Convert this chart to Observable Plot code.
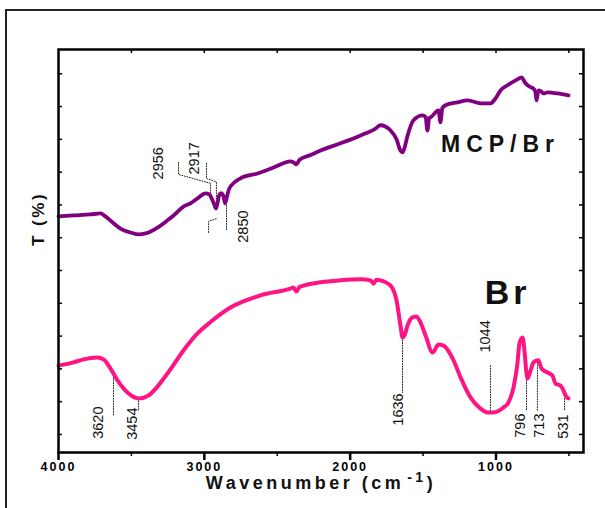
<!DOCTYPE html>
<html>
<head>
<meta charset="utf-8">
<script src="https://cdn.jsdelivr.net/npm/d3@7"></script>
<script src="https://cdn.jsdelivr.net/npm/@observablehq/plot@0.6"></script>
<style>
  html, body { margin: 0; padding: 0; background: #fff; overflow: hidden; width: 605px; height: 508px; }
  #wrap { position: relative; width: 605px; height: 508px; }
  #border { position: absolute; left: 5px; top: 9px; width: 700px; height: 600px; border: 2px solid #222; box-sizing: border-box; pointer-events: none; }
  svg { font-family: "Liberation Sans", Arial, sans-serif; }
  g[aria-label="x-axis tick label"] text { font-weight: bold; letter-spacing: 2px; }
</style>
</head>
<body>
<div id="wrap"><div id="border"></div></div>
<script>
// ---- data ----
const mcpWn = [4000,3897,3781,3712,3678,3630,3575,3506,3451,3403,3321,3253,3211,3143,3095,3047,2992,2965,2950,2935,2920,2910,2898,2885,2870,2857,2845,2830,2800,2752,2635,2526,2409,2389,2368,2347,2272,2203,2066,1929,1826,1792,1723,1682,1655,1641,1627,1607,1566,1504,1483,1470,1458,1449,1394,1381,1368,1346,1264,1195,1106,1038,1003,969,921,853,825,798,763,743,730,722,709,690,674,647,578,503];
const mcpT  = [66.5,66.8,67.1,67.4,66.5,64.7,62.8,61.6,61.0,61.3,63.1,65.3,66.8,69.5,70.5,72.0,73.5,73.2,72.0,70.5,68.9,70.5,73.0,73.6,72.8,70.5,72.5,74.9,76.6,78.1,79.6,81.4,83.3,83.0,82.4,83.8,85.2,86.6,88.8,91.2,93.3,94.3,92.7,90.0,86.5,86.0,87.5,91.0,95.8,97.3,96.8,92.7,96.5,96.7,98.8,95.2,99.5,100.4,101.3,101.9,101.0,101.0,102.5,104.9,106.5,108.3,108.9,107.1,105.9,105.5,104.5,101.9,104.9,104.6,104.0,104.3,104.0,103.4];

const brWn = [4000,3897,3829,3733,3691,3643,3595,3527,3451,3383,3253,3143,3047,2960,2821,2615,2409,2389,2368,2347,2203,2066,1929,1860,1840,1820,1792,1723,1682,1655,1641,1627,1607,1573,1545,1518,1483,1435,1394,1360,1291,1243,1175,1106,1058,1017,949,914,880,853,839,818,805,791,784,763,743,709,688,647,613,592,558,537,523,503];
const brT  = [21.0,22.0,22.9,23.5,22.9,20.1,16.5,12.8,11.0,11.9,18.6,25.6,30.8,34.2,38.7,42.4,44.5,44.8,43.6,45.0,46.4,47.0,47.3,47.0,46.0,47.2,47.0,45.4,40.9,33.2,29.6,30.2,33.2,35.7,36.0,34.2,30.2,25.0,27.4,27.1,22.6,17.4,11.3,7.9,6.7,6.7,8.2,9.8,14.3,21.7,27.8,29.6,25.6,18.6,17.1,19.5,22.0,22.6,20.1,18.9,18.0,15.5,14.9,13.4,11.9,11.0];

const peakText = ["2956","2917","2850","3620","3454","1636","1044","796","713","531"];
const peakWn   = [3314,3067,2731,3726,3493,1669,1072,832,702,537];
const peakT    = [82.7,84.2,63.4,3.6,3.3,7.6,29.9,2.7,2.7,2.4];

// dotted leader lines (id, wavenumber, T)
const leaderId = ["a","a","a","a", "b","b","b","b", "c","c","c", "d","d", "e","e", "f","f", "g","g", "h","h", "i","i", "j","j", "k","k"];
const leaderWn = [3177,3177,2958,2958, 2985,2985,2917,2917, 2971,2971,2910, 2848,2848, 3623,3623, 3451,3451, 1641,1641, 1038,1038, 791,791, 716,716, 530,530];
const leaderT  = [83.0,79.3,76.6,72.6, 82.7,78.1,77.0,69.9, 61.6,65.0,65.9, 69.9,62.2, 17.4,5.8, 11.0,7.3, 29.6,12.8, 21.0,6.7, 17.4,7.3, 22.0,7.3, 11.0,7.3];

const xMajor = [4000,3000,2000,1000];
const xMinor = [3500,2500,1500,500];
const xAll = [3500,3000,2500,2000,1500,1000,500];
const yTicks = [0,10,20,30,40,50,60,70,80,90,100,110];

const seriesName = ["MCP/Br","Br"];
const seriesWn = [969, 921];
const seriesT = [88.3, 43.2];

// ---- tables ----
const mcp = mcpWn.map((w,i)=>({wn:w, t:mcpT[i]}));
const br = brWn.map((w,i)=>({wn:w, t:brT[i]}));
const peaks = peakText.map((s,i)=>({s, wn:peakWn[i], t:peakT[i]}));
const leaders = leaderId.map((id,i)=>({id, wn:leaderWn[i], t:leaderT[i]}));

const W = 605, H = 508, mL = 58, mR = 22, mT = 49, mB = 56;
const pw = W - mL - mR, ph = H - mT - mB;

const chart = Plot.plot({
  width: W, height: H,
  marginLeft: mL, marginRight: mR, marginTop: mT, marginBottom: mB,
  style: {fontFamily: '"Liberation Sans", Arial, sans-serif', background: "transparent", overflow: "visible"},
  x: {domain: [4000, 400], axis: null, label: null},
  y: {domain: [-5.5, 117.4], axis: null, label: null},
  marks: [
    // inward minor ticks on top, left, right
    Plot.ruleX(xAll, {x: d=>d, insetBottom: ph - 4, stroke: "#000", strokeWidth: 1.5}),
    Plot.ruleY(yTicks, {y: d=>d, insetRight: pw - 4, stroke: "#000", strokeWidth: 1.5}),
    Plot.ruleY(yTicks, {y: d=>d, insetLeft: pw - 4, stroke: "#000", strokeWidth: 1.5}),
    Plot.axisX(xMinor, {tickSize: 4, text: null, label: null, strokeWidth: 1.5}),
    Plot.axisX(xMajor, {tickSize: 8, tickPadding: 2, strokeWidth: 2.5, fontSize: 12.5, fontWeight: "bold", tickFormat: d=>String(d), label: null}),
    // leaders
    Plot.line(leaders, {x: "wn", y: "t", z: "id", stroke: "#222", strokeWidth: 1, strokeDasharray: "1,1.6"}),
    // spectra
    Plot.line(mcp, {x: "wn", y: "t", stroke: "#800080", strokeWidth: 3.8, curve: "monotone-x"}),
    Plot.line(br, {x: "wn", y: "t", stroke: "#ff1483", strokeWidth: 4, curve: "monotone-x"}),
    // peak labels
    Plot.text(peaks, {x: "wn", y: "t", text: "s", rotate: -90, fontSize: 14.5, fill: "#111"}),
    // series labels
    Plot.text([0], {x: seriesWn[0], y: seriesT[0], text: [seriesName[0]], fontSize: 23, fontWeight: "bold", fill: "#111", lineAnchor: "middle"}),
    Plot.text([0], {x: seriesWn[1], y: seriesT[1], text: [seriesName[1]], fontSize: 34, fontWeight: "bold", fill: "#111", lineAnchor: "middle"}),
    // axis titles
    Plot.text(["Wavenumber (cm-1)"], {frameAnchor: "bottom", dy: 31, fontSize: 18, fontWeight: "bold", fill: "#111", lineAnchor: "middle"}),
    Plot.text(["T (%)"], {frameAnchor: "left", dx: -20, dy: -5, rotate: -90, fontSize: 17, fontWeight: "bold", fill: "#111", lineAnchor: "middle"}),
    Plot.frame({stroke: "#000", strokeWidth: 2.5})
  ]
});

document.getElementById("wrap").appendChild(chart);

// letter spacing and superscript
chart.querySelectorAll("text").forEach(t => {
  const s = t.textContent;
  if (s === "MCP/Br") t.setAttribute("letter-spacing", "6");
  if (s === "Br") t.setAttribute("letter-spacing", "4");
  if (s === "T (%)") t.setAttribute("letter-spacing", "2.5");
  if (s === "Wavenumber (cm-1)") {
    t.setAttribute("letter-spacing", "3.5");
    while (t.firstChild) t.removeChild(t.firstChild);
    const ns = "http://www.w3.org/2000/svg";
    const a = document.createElementNS(ns, "tspan"); a.textContent = "Wavenumber (cm";
    const b = document.createElementNS(ns, "tspan"); b.textContent = "-1"; b.setAttribute("dy", "-7"); b.setAttribute("font-size", "14"); b.setAttribute("dx", "3");
    const c = document.createElementNS(ns, "tspan"); c.textContent = ")"; c.setAttribute("dy", "7");
    t.appendChild(a); t.appendChild(b); t.appendChild(c);
  }
});
</script>
</body>
</html>
